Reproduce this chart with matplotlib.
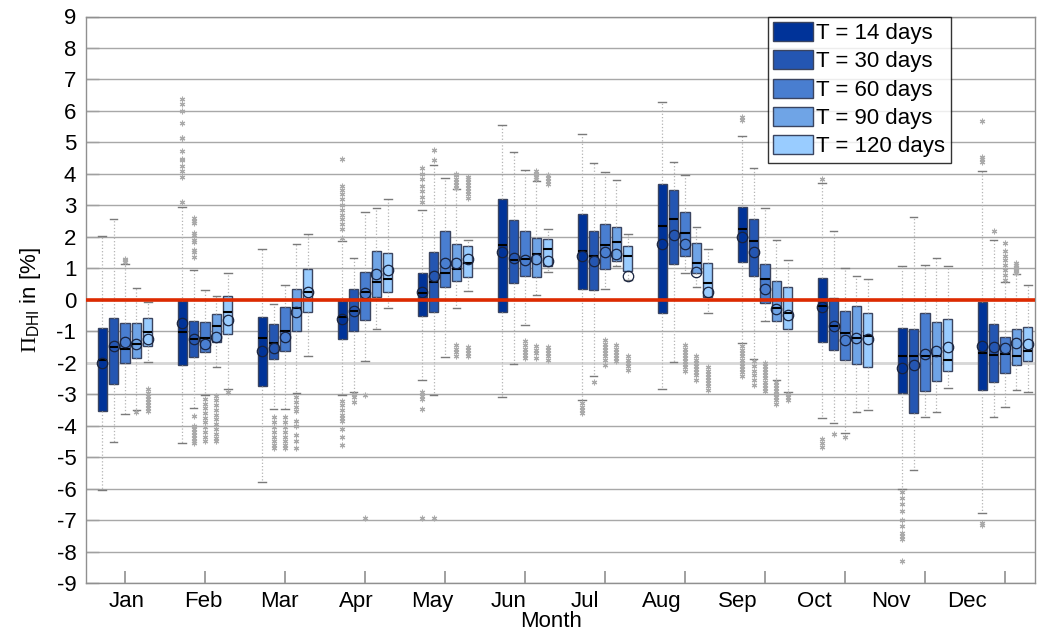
import numpy as np
import matplotlib
matplotlib.use("Agg")
import matplotlib.pyplot as plt
from matplotlib.patches import Patch

plt.rcParams['font.family'] = ['Liberation Sans', 'DejaVu Sans']
plt.rcParams['mathtext.fontset'] = 'custom'
plt.rcParams['mathtext.rm'] = 'Liberation Serif'
plt.rcParams['mathtext.it'] = 'Liberation Serif:italic'
plt.rcParams['mathtext.sf'] = 'Liberation Sans'
plt.rcParams['axes.unicode_minus'] = False

months = ["Jan", "Feb", "Mar", "Apr", "May", "Jun", "Jul", "Aug", "Sep", "Oct", "Nov", "Dec"]
series = ["T = 14 days", "T = 30 days", "T = 60 days", "T = 90 days", "T = 120 days"]
colors = ["#003399", "#2456B2", "#497ED0", "#6FA4E6", "#99CCFF"]

# per month: values for the 5 series
whisker_low = [
    [-6.04, -4.52, -3.63, -3.50, -1.99],
    [-4.55, -3.45, -3.03, -2.14, -2.84],
    [-5.79, -3.47, -3.47, -2.95, -1.79],
    [-3.03, -2.93, -1.95, -0.94, -0.27],
    [-2.54, -3.02, -1.82, -0.26, 0.27],
    [-3.10, -2.05, -0.80, 0.16, 0.87],
    [-3.17, -2.43, 0.34, 1.07, 0.63],
    [-2.84, -1.98, 0.85, 0.40, -0.42],
    [-1.39, -1.88, -0.69, -2.56, -2.94],
    [-3.76, -3.92, -4.23, -3.58, -3.49],
    [-6.00, -5.42, -3.73, -3.57, -2.80],
    [-6.76, -3.74, -3.42, -2.86, -2.93],
]
q1 = [
    [-3.52, -2.67, -2.00, -1.85, -1.48],
    [-2.07, -1.82, -1.66, -1.34, -1.08],
    [-2.73, -1.88, -1.63, -1.00, -0.39],
    [-1.26, -1.00, -0.65, 0.09, 0.24],
    [-0.51, -0.39, 0.42, 0.59, 0.72],
    [-0.38, 0.52, 0.77, 0.73, 1.08],
    [0.34, 0.31, 0.97, 1.24, 0.91],
    [-0.42, 1.15, 1.38, 0.85, 0.10],
    [1.20, 0.77, -0.09, -0.67, -0.93],
    [-1.34, -1.59, -1.92, -2.04, -2.13],
    [-2.97, -3.60, -2.90, -2.57, -2.27],
    [-2.87, -2.60, -2.33, -2.07, -1.96],
]
median = [
    [-1.91, -1.50, -1.57, -1.40, -1.03],
    [-1.03, -1.25, -1.23, -0.82, -0.38],
    [-1.22, -1.37, -1.00, -0.25, 0.25],
    [-0.55, -0.37, 0.25, 0.57, 0.67],
    [0.20, 0.56, 0.85, 0.97, 1.18],
    [1.74, 1.27, 1.30, 1.46, 1.60],
    [1.55, 1.38, 1.74, 1.84, 1.38],
    [2.35, 2.55, 2.13, 1.16, 0.53],
    [2.24, 1.88, 0.65, -0.25, -0.42],
    [-0.20, -0.84, -1.05, -1.20, -1.14],
    [-1.78, -1.79, -1.80, -1.78, -1.92],
    [-1.69, -1.76, -1.73, -1.78, -1.62],
]
mean = [
    [-2.00, -1.48, -1.33, -1.40, -1.26],
    [-0.75, -1.25, -1.41, -1.18, -0.63],
    [-1.63, -1.53, -1.17, -0.39, 0.25],
    [-0.61, -0.37, 0.23, 0.82, 0.95],
    [0.24, 0.74, 1.16, 1.17, 1.29],
    [1.52, 1.34, 1.26, 1.30, 1.24],
    [1.38, 1.23, 1.51, 1.44, 0.77],
    [1.78, 2.07, 1.76, 0.88, 0.25],
    [2.00, 1.52, 0.35, -0.29, -0.50],
    [-0.23, -0.84, -1.27, -1.22, -1.25],
    [-2.16, -2.07, -1.71, -1.63, -1.51],
    [-1.48, -1.50, -1.53, -1.38, -1.40],
]
q3 = [
    [-0.90, -0.58, -0.74, -0.74, -0.58],
    [-0.03, -0.66, -0.71, -0.45, 0.12],
    [-0.55, -0.76, -0.23, 0.34, 0.99],
    [-0.04, 0.34, 0.89, 1.56, 1.48],
    [0.85, 1.52, 2.19, 1.77, 1.71],
    [3.20, 2.52, 2.17, 1.97, 1.94],
    [2.72, 2.17, 2.41, 2.31, 1.72],
    [3.67, 3.48, 2.78, 1.80, 1.18],
    [2.95, 2.55, 1.13, 0.59, 0.40],
    [0.69, 0.05, -0.36, -0.20, -0.42],
    [-0.90, -0.93, -0.42, -0.70, -0.61],
    [-0.06, -0.78, -1.17, -0.92, -0.85],
]
whisker_high = [
    [2.03, 2.57, 1.13, 0.37, -0.07],
    [2.95, 0.93, 0.30, 0.12, 0.85],
    [1.61, -0.12, 0.47, 1.77, 2.10],
    [1.87, 1.32, 2.78, 2.91, 3.20],
    [2.86, 4.28, 3.87, 3.51, 1.89],
    [5.56, 4.70, 4.13, 3.78, 2.24],
    [5.28, 4.34, 4.05, 3.81, 2.10],
    [6.27, 4.38, 3.96, 2.32, 1.60],
    [5.19, 4.18, 2.91, 1.89, 1.26],
    [3.72, 2.19, 1.00, 0.77, 0.67],
    [1.07, 2.63, 1.10, 1.34, 1.06],
    [4.10, 1.90, 0.56, 0.81, 0.47],
]
outliers = [
    # Jan
    [[], [], [1.20, 1.25, 1.30], [-3.56],
     [-2.85, -2.95, -3.05, -3.15, -3.25, -3.35, -3.45, -3.55]],
    # Feb
    [[3.12, 3.89, 4.10, 4.25, 4.44, 4.47, 4.73, 5.13, 5.15, 5.61, 6.01, 6.22, 6.38],
     [1.37, 1.53, 1.59, 1.85, 1.90, 2.06, 2.12, 2.43, 2.49, 2.59,
      -3.68, -4.00, -4.10, -4.20, -4.30, -4.40, -4.50, -4.55],
     [-3.15, -3.30, -3.45, -3.60, -3.75, -3.90, -4.05, -4.20, -4.35, -4.50],
     [-3.05, -3.20, -3.35, -3.50, -3.65, -3.80, -3.95, -4.10, -4.25, -4.40, -4.50],
     [-2.94]],
    # Mar
    [[],
     [-3.73, -3.90, -4.05, -4.20, -4.35, -4.50, -4.60, -4.71],
     [-3.73, -3.90, -4.05, -4.20, -4.35, -4.50, -4.60, -4.71],
     [-3.10, -3.25, -3.40, -3.55, -3.85, -4.00, -4.30, -4.50, -4.70],
     []],
    # Apr
    [[1.96, 2.24, 2.40, 2.55, 2.70, 2.85, 3.00, 3.20, 3.35, 3.50, 3.62, 4.47,
      -3.23, -3.35, -3.50, -3.65, -3.75, -3.86, -4.10, -4.36, -4.62],
     [-3.00, -3.10, -3.25],
     [-3.03, -6.95],
     [],
     []],
    # May
    [[3.12, 3.25, 3.45, 3.60, 3.85, 4.00, 4.18, -2.93, -3.05, -3.15, -3.47, -6.95],
     [4.44, 4.76, -6.95],
     [],
     [3.55, 3.65, 3.75, 3.85, 3.95, 4.00, -1.43, -1.55, -1.65, -1.80],
     [3.23, 3.35, 3.45, 3.55, 3.65, 3.75, 3.85, 3.91, -1.50, -1.60, -1.70, -1.78]],
    # Jun
    [[],
     [],
     [-1.32, -1.45, -1.55, -1.65, -1.75, -1.85],
     [3.83, 3.90, 4.00, 4.10, -1.48, -1.60, -1.70, -1.85],
     [3.68, 3.78, 3.88, 3.97, -1.50, -1.60, -1.70, -1.80, -1.90]],
    # Jul
    [[-3.28, -3.40, -3.50, -3.60],
     [-2.60],
     [-1.27, -1.40, -1.50, -1.60, -1.70, -1.80, -1.90, -2.06],
     [-1.43, -1.55, -1.65, -1.75, -1.85, -1.94],
     [-1.78, -1.90, -2.00, -2.10, -2.22]],
    # Aug
    [[],
     [],
     [-1.45, -1.55, -1.65, -1.75, -1.85, -1.95, -2.05, -2.15, -2.27],
     [-1.80, -1.90, -2.00, -2.10, -2.20, -2.30, -2.40, -2.54],
     [-2.14, -2.25, -2.35, -2.45, -2.55, -2.65, -2.75, -2.86]],
    # Sep
    [[5.70, 5.80, -1.48, -1.60, -1.70, -1.80, -1.90, -2.00, -2.10, -2.20, -2.30, -2.41],
     [-1.95, -2.10, -2.25, -2.40, -2.55, -2.70],
     [-2.01, -2.10, -2.20, -2.30, -2.40, -2.50, -2.60, -2.70, -2.80, -2.91],
     [-2.60, -2.70, -2.80, -2.90, -3.00, -3.10, -3.20, -3.30],
     [-3.00, -3.10, -3.20]],
    # Oct
    [[3.83, -4.42, -4.55, -4.68],
     [-4.27],
     [-4.35],
     [],
     []],
    # Nov
    [[-6.10, -6.30, -6.50, -6.70, -7.00, -7.20, -7.40, -7.50, -7.60, -8.30],
     [], [], [], []],
    # Dec
    [[4.39, 4.47, 4.55, 5.68, -7.08, -7.15],
     [2.20],
     [0.63, 0.80, 0.95, 1.10, 1.25, 1.40, 1.55, 1.80],
     [0.85, 0.90, 0.95, 1.00, 1.05, 1.10, 1.16],
     []],
]
yticks = list(range(-9, 10))

# ---------------- layout ----------------
fig = plt.figure(figsize=(10.4, 6.36), dpi=100)
ax = fig.add_axes([86 / 1040, 53 / 636, 949 / 1040, 566.5 / 636])

group_pos = np.arange(1, len(months) + 1)
offset_step = 0.142
box_w = 0.116

for s in range(len(series)):
    stats = []
    for m in range(len(months)):
        stats.append(dict(med=median[m][s], q1=q1[m][s], q3=q3[m][s],
                          whislo=whisker_low[m][s], whishi=whisker_high[m][s],
                          mean=mean[m][s], fliers=outliers[m][s]))
    pos = group_pos + (s - 2) * offset_step
    ax.bxp(stats, positions=pos, widths=box_w, capwidths=0.095,
           patch_artist=True, showmeans=True, meanline=False, showfliers=True,
           manage_ticks=False,
           boxprops=dict(facecolor=colors[s], edgecolor='#3a4460', linewidth=1.0),
           medianprops=dict(color='black', linewidth=1.5),
           whiskerprops=dict(color='#b4b4b4', linestyle=':', linewidth=0.9),
           capprops=dict(color='#7a7a7a', linewidth=1.0),
           flierprops=dict(marker=(6, 2, 0), markersize=4.0, markeredgecolor='#aaaaaa',
                           markerfacecolor='#aaaaaa', markeredgewidth=0.8, linestyle='none'),
           meanprops=dict(marker='o', markerfacecolor='none', markeredgecolor='#18233f',
                          markersize=7.5, markeredgewidth=0.9),
           zorder=3)

ax.set_xlim(0.5125, 12.375)
ax.set_ylim(-9, 9)
ax.set_yticks(yticks)
ax.set_yticklabels([str(v) for v in yticks])
ax.yaxis.grid(True, color='#a8a8a8', linewidth=1.0)
ax.set_axisbelow(True)
ax.axhline(-2, color='#d8d8d8', linewidth=2.0, zorder=1)
ax.axhline(0, color='#dd2a00', linewidth=2.6, zorder=5)

# x: ticks at box groups, labels at their own positions
ax.set_xticks(group_pos)
ax.set_xticklabels([''] * len(months))
label_pos = 1.025 + np.arange(len(months)) * 0.9545
ax.set_xticks(label_pos, minor=True)
ax.set_xticklabels(months, minor=True)
ax.tick_params(axis='x', which='major', direction='in', length=9, width=1.2, color='#909090')
ax.tick_params(axis='x', which='minor', length=0, pad=6, labelsize=16)
ax.tick_params(axis='y', direction='in', length=9, width=1.0, color='#a0a0a0', pad=7, labelsize=16)

for sp in ax.spines.values():
    sp.set_color('#909090')
    sp.set_linewidth(1.0)

ax.set_xlabel('Month', fontsize=16)
ax.xaxis.set_label_coords(0.49, -0.05)
ax.set_ylabel(r'$\Pi_{\mathsf{DHI}}$ in [%]', fontsize=16)
ax.yaxis.set_label_coords(-0.045, 0.5)

handles = [Patch(facecolor=c, edgecolor='#3a4460', linewidth=1.0) for c in colors]
leg = ax.legend(handles, series, loc='upper right', bbox_to_anchor=(0.9115, 1.0),
                borderaxespad=0, prop={'size': 16}, frameon=True, fancybox=False,
                handlelength=1.8, handleheight=0.95, handletextpad=0.15,
                labelspacing=0.27, borderpad=0.25)
leg.get_frame().set_edgecolor('black')
leg.get_frame().set_linewidth(1.0)
leg.set_zorder(10)

fig.savefig('out.png', dpi=100)
